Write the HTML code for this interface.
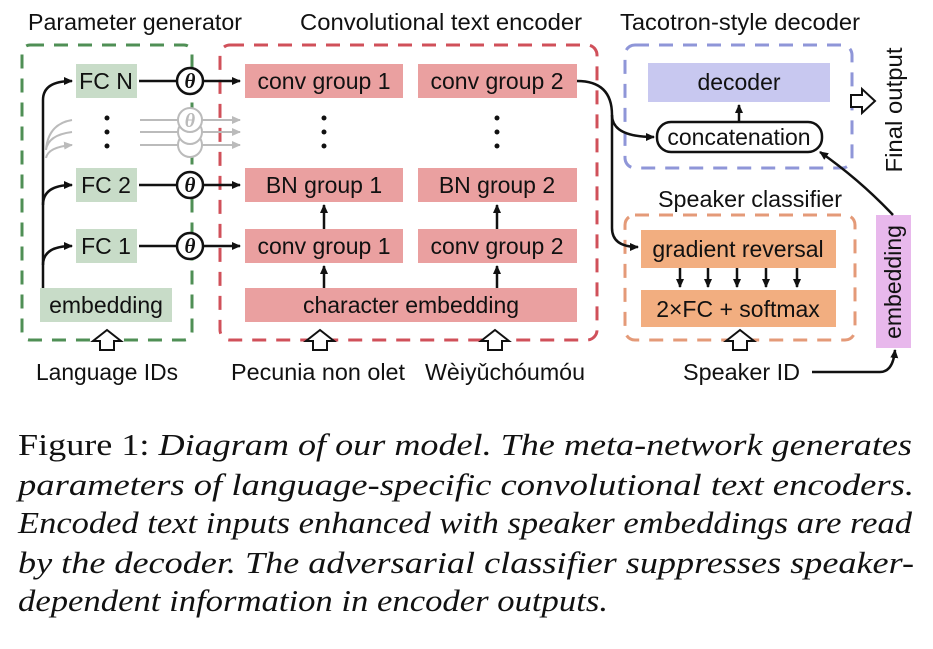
<!DOCTYPE html>
<html><head><meta charset="utf-8"><style>
html,body{margin:0;padding:0;background:#fff;}
svg{display:block;}
.t{font-family:"Liberation Sans Narrow","Liberation Sans",sans-serif;font-size:23px;fill:#111;}
.c{font-family:"Liberation Serif","DejaVu Serif",serif;font-size:31px;fill:#111;font-style:italic;}
</style></head><body>
<svg width="933" height="649" viewBox="0 0 933 649" xmlns="http://www.w3.org/2000/svg">
<defs>
<marker id="a" markerWidth="10" markerHeight="10" refX="8" refY="5" orient="auto" markerUnits="userSpaceOnUse"><path d="M0,1 L9,5 L0,9 Z" fill="#111"/></marker>
<marker id="g" markerWidth="10" markerHeight="10" refX="8" refY="5" orient="auto" markerUnits="userSpaceOnUse"><path d="M0,1 L9,5 L0,9 Z" fill="#bbb"/></marker>
</defs>
<text class="t" x="28" y="30" textLength="214" lengthAdjust="spacingAndGlyphs">Parameter generator</text>
<text class="t" x="300" y="30" textLength="282" lengthAdjust="spacingAndGlyphs">Convolutional text encoder</text>
<text class="t" x="620" y="30" textLength="240" lengthAdjust="spacingAndGlyphs">Tacotron-style decoder</text>
<rect x="22" y="45" width="170" height="295" rx="8" fill="none" stroke="#4f8f55" stroke-width="3" stroke-dasharray="14,10"/>
<rect x="220" y="45" width="377" height="295" rx="10" fill="none" stroke="#d0505a" stroke-width="3" stroke-dasharray="14,10"/>
<rect x="625" y="45" width="227" height="123" rx="10" fill="none" stroke="#8f96d8" stroke-width="3" stroke-dasharray="14,10"/>
<rect x="625" y="215" width="230" height="125" rx="10" fill="none" stroke="#e49a78" stroke-width="3" stroke-dasharray="14,10"/>
<rect x="76" y="64" width="61" height="34" fill="#c8dcc8"/>
<rect x="76" y="168" width="61" height="34" fill="#c8dcc8"/>
<rect x="76" y="229" width="61" height="34" fill="#c8dcc8"/>
<rect x="40" y="288" width="132" height="34" fill="#c8dcc8"/>
<text class="t" x="106" y="89" text-anchor="middle">FC N</text>
<text class="t" x="106" y="193" text-anchor="middle">FC 2</text>
<text class="t" x="106" y="254" text-anchor="middle">FC 1</text>
<text class="t" x="106" y="313" text-anchor="middle">embedding</text>
<circle cx="107" cy="118" r="2.5" fill="#111"/><circle cx="107" cy="132" r="2.5" fill="#111"/><circle cx="107" cy="146" r="2.5" fill="#111"/>
<path d="M43,288 L43,100 Q43,81 72,81" fill="none" stroke="#111" stroke-width="2.5" marker-end="url(#a)"/>
<path d="M43,205 Q43,185 72,185" fill="none" stroke="#111" stroke-width="2.5" marker-end="url(#a)"/>
<path d="M43,265 Q43,246 72,246" fill="none" stroke="#111" stroke-width="2.5" marker-end="url(#a)"/>
<path d="M46,150 Q48,124 72,120 M46,150 Q48,135 72,132 M46,158 Q48,147 72,145" fill="none" stroke="#bbb" stroke-width="2" marker-end="url(#g)"/>
<g stroke="#bbb" stroke-width="2" fill="#fff">
<line x1="140" y1="120" x2="240" y2="120" marker-end="url(#g)"/><line x1="140" y1="132" x2="240" y2="132" marker-end="url(#g)"/><line x1="140" y1="145" x2="240" y2="145" marker-end="url(#g)"/>
<circle cx="190" cy="145" r="12"/><circle cx="190" cy="132" r="12"/><circle cx="190" cy="120" r="12"/></g>
<text x="190" y="127" text-anchor="middle" font-family="Liberation Serif" font-style="italic" font-weight="bold" font-size="20" fill="#bbb">θ</text>
<g stroke="#111" stroke-width="2.5">
<line x1="139" y1="81" x2="240" y2="81" marker-end="url(#a)"/>
<line x1="139" y1="185" x2="240" y2="185" marker-end="url(#a)"/>
<line x1="139" y1="246" x2="240" y2="246" marker-end="url(#a)"/>
</g>
<g stroke="#111" stroke-width="2.5" fill="#fff">
<circle cx="190" cy="81" r="13"/><circle cx="190" cy="185" r="13"/><circle cx="190" cy="246" r="13"/></g>
<g font-family="Liberation Serif" font-style="italic" font-weight="bold" font-size="21" fill="#111" text-anchor="middle">
<text x="190" y="88">θ</text><text x="190" y="192">θ</text><text x="190" y="253">θ</text></g>
<g fill="#eaa0a0">
<rect x="245" y="64" width="158" height="34"/><rect x="418" y="64" width="159" height="34"/>
<rect x="245" y="168" width="158" height="34"/><rect x="418" y="168" width="159" height="34"/>
<rect x="245" y="229" width="158" height="34"/><rect x="418" y="229" width="159" height="34"/>
<rect x="245" y="288" width="332" height="34"/></g>
<g text-anchor="middle">
<text class="t" x="324" y="89">conv group 1</text><text class="t" x="497" y="89">conv group 2</text>
<text class="t" x="324" y="193">BN group 1</text><text class="t" x="497" y="193">BN group 2</text>
<text class="t" x="324" y="254">conv group 1</text><text class="t" x="497" y="254">conv group 2</text>
<text class="t" x="411" y="313">character embedding</text></g>
<g fill="#111"><circle cx="324" cy="118" r="2.5"/><circle cx="324" cy="132" r="2.5"/><circle cx="324" cy="146" r="2.5"/>
<circle cx="497" cy="118" r="2.5"/><circle cx="497" cy="132" r="2.5"/><circle cx="497" cy="146" r="2.5"/></g>
<g stroke="#111" stroke-width="2.5">
<line x1="324" y1="288" x2="324" y2="266" marker-end="url(#a)"/><line x1="497" y1="288" x2="497" y2="266" marker-end="url(#a)"/>
<line x1="324" y1="229" x2="324" y2="205" marker-end="url(#a)"/><line x1="497" y1="229" x2="497" y2="205" marker-end="url(#a)"/>
</g>
<rect x="648" y="63" width="182" height="39" fill="#c8c8f0"/>
<text class="t" x="739" y="90" text-anchor="middle">decoder</text>
<rect x="657" y="122" width="165" height="30" rx="14" fill="#fff" stroke="#111" stroke-width="2.5"/>
<text class="t" x="739" y="145" text-anchor="middle">concatenation</text>
<line x1="739" y1="122" x2="739" y2="105" stroke="#111" stroke-width="2.5" marker-end="url(#a)"/>
<path d="M577,81 Q612,81 612,115 Q612,137 654,137" fill="none" stroke="#111" stroke-width="2.5" marker-end="url(#a)"/>
<path d="M612,115 L612,228 Q612,247 638,247" fill="none" stroke="#111" stroke-width="2.5" marker-end="url(#a)"/>
<path d="M851,95 L862,95 L862,89 L875,101 L862,113 L862,107 L851,107 Z" fill="#fff" stroke="#111" stroke-width="2"/>
<text class="t" transform="translate(902,110) rotate(-90)" text-anchor="middle" textLength="125" lengthAdjust="spacingAndGlyphs">Final output</text>
<text class="t" x="658" y="207" textLength="184" lengthAdjust="spacingAndGlyphs">Speaker classifier</text>
<rect x="641" y="230" width="195" height="38" fill="#f2ae80"/>
<rect x="641" y="290" width="195" height="37" fill="#f2ae80"/>
<text class="t" x="738" y="257" text-anchor="middle">gradient reversal</text>
<text class="t" x="738" y="317" text-anchor="middle">2×FC + softmax</text>
<g stroke="#111" stroke-width="2.5">
<line x1="680" y1="268" x2="680" y2="287" marker-end="url(#a)"/><line x1="708" y1="268" x2="708" y2="287" marker-end="url(#a)"/>
<line x1="737" y1="268" x2="737" y2="287" marker-end="url(#a)"/><line x1="766" y1="268" x2="766" y2="287" marker-end="url(#a)"/>
<line x1="797" y1="268" x2="797" y2="287" marker-end="url(#a)"/></g>
<rect x="876" y="215" width="35" height="133" fill="#e8b8ec"/>
<text class="t" transform="translate(901,282) rotate(-90)" text-anchor="middle">embedding</text>
<path d="M893,215 Q860,180 820,152" fill="none" stroke="#111" stroke-width="2.5" marker-end="url(#a)"/>
<path d="M812,372 L880,372 Q893,372 895,350" fill="none" stroke="#111" stroke-width="2.5" marker-end="url(#a)"/>
<g fill="#fff" stroke="#111" stroke-width="2">
<path d="M100,350 L100,341 L93,341 L107,330 L121,341 L114,341 L114,350 Z"/>
<path d="M313,350 L313,341 L306,341 L320,330 L334,341 L327,341 L327,350 Z"/>
<path d="M488,350 L488,341 L481,341 L495,330 L509,341 L502,341 L502,350 Z"/>
<path d="M733,350 L733,341 L726,341 L740,330 L754,341 L747,341 L747,350 Z"/></g>
<text class="t" x="36" y="380" textLength="142" lengthAdjust="spacingAndGlyphs">Language IDs</text>
<text class="t" x="231" y="380" textLength="174" lengthAdjust="spacingAndGlyphs">Pecunia non olet</text>
<text class="t" x="425" y="380" textLength="160" lengthAdjust="spacingAndGlyphs">Wèiyǔchóumóu</text>
<text class="t" x="683" y="380" textLength="117" lengthAdjust="spacingAndGlyphs">Speaker ID</text>
<text class="c" x="18" y="455" textLength="894" lengthAdjust="spacingAndGlyphs"><tspan font-style="normal">Figure 1:</tspan> Diagram of our model. The meta-network generates</text>
<text class="c" x="18" y="495" textLength="896" lengthAdjust="spacingAndGlyphs">parameters of language-specific convolutional text encoders.</text>
<text class="c" x="18" y="533" textLength="894" lengthAdjust="spacingAndGlyphs">Encoded text inputs enhanced with speaker embeddings are read</text>
<text class="c" x="18" y="573" textLength="896" lengthAdjust="spacingAndGlyphs">by the decoder. The adversarial classifier suppresses speaker-</text>
<text class="c" x="18" y="611" textLength="590" lengthAdjust="spacingAndGlyphs">dependent information in encoder outputs.</text>
</svg>
</body></html>
